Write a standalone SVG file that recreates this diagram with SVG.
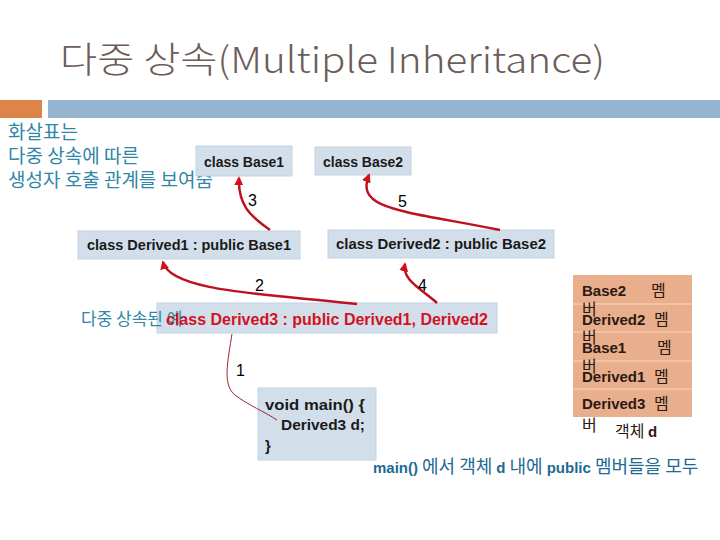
<svg xmlns="http://www.w3.org/2000/svg" width="720" height="540" viewBox="0 0 720 540">
<style>
.title{font-family:"Noto Sans CJK KR","Liberation Sans",sans-serif;font-size:36px;fill:#6b5d59;font-weight:300}
.note{font-family:"Noto Sans CJK KR",sans-serif;font-size:19px;fill:#2f86a6}
.box{fill:#d2dfeb;stroke:#c3d2e0;stroke-width:1}
.lbl{font-family:"Liberation Sans","Noto Sans CJK KR",sans-serif;font-size:15px;font-weight:bold;fill:#1a1a1a}
.red{font-family:"Liberation Sans",sans-serif;font-size:16px;font-weight:bold;fill:#d3121f}
.mem{font-family:"Liberation Sans","Noto Sans CJK KR",sans-serif;font-size:15px;font-weight:bold;fill:#2a1a12}
.kr{font-family:"Noto Sans CJK KR",sans-serif;font-size:16px;font-weight:normal;fill:#2a1a12}
.num{font-family:"Liberation Sans",sans-serif;font-size:16px;fill:#000}
.arr{fill:none;stroke:#bf1020;stroke-width:2.5}
.thin{fill:none;stroke:#a0203a;stroke-width:1}
.bot{font-family:"Noto Sans CJK KR",sans-serif;font-size:18px;fill:#1d6a92}
.en{font-family:"Liberation Sans",sans-serif;font-weight:bold;font-size:15px}
</style>
<defs>
<marker id="ah" viewBox="0 0 10 10" refX="8" refY="5" markerWidth="9" markerHeight="9" markerUnits="userSpaceOnUse" orient="auto">
<path d="M0,0 L10,5 L0,10 z" fill="#d0101c"/>
</marker>
</defs>
<rect width="720" height="540" fill="#fff"/>
<text class="title" x="60" y="73" textLength="545" lengthAdjust="spacingAndGlyphs">다중 상속(Multiple Inheritance)</text>
<rect x="0" y="100" width="42" height="18" fill="#dd8448"/>
<rect x="48" y="100" width="672" height="18" fill="#94b4cf"/>
<g id="note">
<text class="note" x="8" y="139">화살표는</text>
<text class="note" x="8" y="163">다중 상속에 따른</text>
<text class="note" x="8" y="187">생성자 호출 관계를 보여줌</text>
</g>
<g id="base1"><rect class="box" x="196" y="146" width="96" height="30"/><text class="lbl" x="244" y="167" text-anchor="middle" textLength="80" lengthAdjust="spacingAndGlyphs">class Base1</text></g>
<g id="base2"><rect class="box" x="315" y="147" width="96" height="28"/><text class="lbl" x="363" y="167" text-anchor="middle" textLength="80" lengthAdjust="spacingAndGlyphs">class Base2</text></g>
<g id="derived1"><rect class="box" x="78" y="231" width="222" height="28"/><text class="lbl" x="189" y="250" text-anchor="middle" textLength="204" lengthAdjust="spacingAndGlyphs">class Derived1 : public Base1</text></g>
<g id="derived2"><rect class="box" x="328" y="230" width="226" height="28"/><text class="lbl" x="441" y="249" text-anchor="middle" textLength="210" lengthAdjust="spacingAndGlyphs">class Derived2 : public Base2</text></g>
<g id="derived3"><rect class="box" x="157" y="303" width="340" height="30"/>
<text class="note" x="81" y="325" style="font-size:17px">다중 상속된 예</text>
<text class="red" x="166" y="325" textLength="322" lengthAdjust="spacingAndGlyphs">class Derived3 : public Derived1,  Derived2</text></g>
<g id="main"><rect class="box" x="258" y="388" width="118" height="72"/>
<text class="lbl" x="265" y="410" textLength="100" lengthAdjust="spacingAndGlyphs">void main() {</text>
<text class="lbl" x="281" y="430" textLength="84" lengthAdjust="spacingAndGlyphs">Derived3 d;</text>
<text class="lbl" x="265" y="451">}</text></g>
<g id="memory">
<rect x="573" y="275" width="119" height="142" fill="#e9ae8c"/>
<g stroke="#f2c9b1" stroke-width="1.5"><line x1="573" y1="304" x2="692" y2="304"/><line x1="573" y1="332" x2="692" y2="332"/><line x1="573" y1="361" x2="692" y2="361"/><line x1="573" y1="389" x2="692" y2="389"/></g>
<text class="mem" x="582" y="296">Base2</text><text class="kr" x="651" y="296">멤</text><text class="kr" x="582" y="315">버</text>
<text class="mem" x="582" y="325">Derived2</text><text class="kr" x="654" y="325">멤</text><text class="kr" x="582" y="343">버</text>
<text class="mem" x="582" y="353">Base1</text><text class="kr" x="657" y="353">멤</text><text class="kr" x="582" y="372">버</text>
<text class="mem" x="582" y="382">Derived1</text><text class="kr" x="654" y="382">멤</text>
<text class="mem" x="582" y="409">Derived3</text><text class="kr" x="654" y="409">멤</text>
<text class="kr" x="582" y="431">버</text><text class="kr" x="615" y="437">객체 <tspan class="mem">d</tspan></text>
</g>
<g id="connectors">
<path class="arr" d="M270,230 C250,216 238,205 239,178" marker-end="url(#ah)"/>
<path class="arr" d="M500,230 C400,210 355,210 369,175" marker-end="url(#ah)"/>
<path class="arr" d="M357,304 C270,294 170,292 163,262" marker-end="url(#ah)"/>
<path class="arr" d="M437,303 C420,288 402,280 405,264" marker-end="url(#ah)"/>
<path class="thin" d="M232,334 C228,360 222,385 235,395 C248,405 265,412 277,420"/>
<text class="num" x="248" y="206">3</text>
<text class="num" x="398" y="207">5</text>
<text class="num" x="255" y="291">2</text>
<text class="num" x="418" y="291">4</text>
<text class="num" x="236" y="376">1</text>
</g>
<text class="bot" x="373" y="473"><tspan class="en">main()</tspan> 에서 객체 <tspan class="en">d</tspan> 내에 <tspan class="en">public</tspan> 멤버들을 모두</text>
</svg>
